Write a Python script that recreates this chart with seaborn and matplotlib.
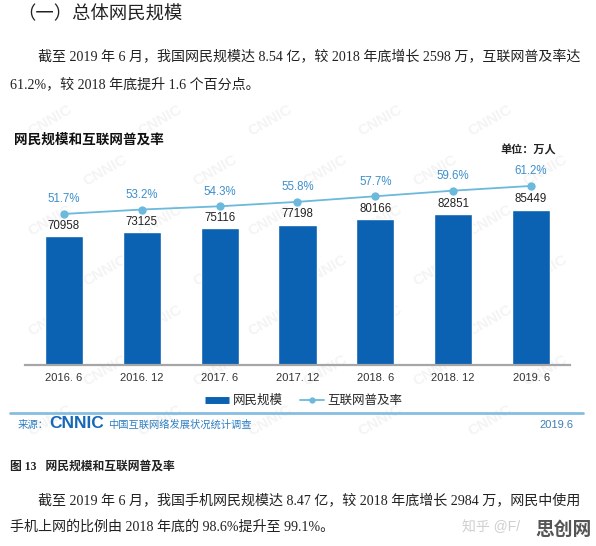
import matplotlib
matplotlib.use('Agg')
import matplotlib.pyplot as plt
from matplotlib.lines import Line2D
import seaborn as sns
import numpy as np
import pandas as pd

# ---- data ----
periods = ['2016. 6', '2016. 12', '2017. 6', '2017. 12', '2018. 6', '2018. 12', '2019. 6']
netizens = [70958, 73125, 75116, 77198, 80166, 82851, 85449]
penetration = [51.7, 53.2, 54.3, 55.8, 57.7, 59.6, 61.2]

heading = '（一）总体网民规模'
para1 = ['截至 2019 年 6 月，我国网民规模达 8.54 亿，较 2018 年底增长 2598 万，互联网普及率达',
         '61.2%，较 2018 年底提升 1.6 个百分点。']
chart_title = '网民规模和互联网普及率'
unit_text = '单位：万人'
legend_labels = ['网民规模', '互联网普及率']
source_label = '来源：'
source_logo = 'CNNIC'
source_name = '中国互联网络发展状况统计调查'
source_date = '2019.6'
caption = '图 13   网民规模和互联网普及率'
para2 = ['截至 2019 年 6 月，我国手机网民规模达 8.47 亿，较 2018 年底增长 2984 万，网民中使用',
         '手机上网的比例由 2018 年底的 98.6%提升至 99.1%。']

df = pd.DataFrame({'period': periods, 'netizens': netizens, 'penetration': penetration})

sns.set_theme(style='white')
SANS = ['Liberation Sans', 'Noto Sans CJK SC', 'DejaVu Sans']
SERIF = ['Liberation Serif', 'Noto Sans CJK SC', 'DejaVu Sans']
plt.rcParams['font.family'] = SANS

W, H = 596, 546
fig = plt.figure(figsize=(W / 100, H / 100), dpi=100)
fig.patch.set_facecolor('white')


def fx(x):
    return x / W


def fy(y):
    return 1 - y / H


bar_color = '#0b62b3'
line_color = '#6bb9dc'
pct_color = '#3d8fcc'

# ---- faint background watermark (decoration), kept inside the page ----
for r, yy in enumerate(range(120, 440, 50)):
    off = (r % 2) * 55
    for xx in range(50 + off, 560, 110):
        fig.text(fx(xx), fy(yy), 'CNNIC', fontsize=11, fontweight='bold',
                 color='#f4f4f4', rotation=30, ha='center', va='center', zorder=-5)

# ---- chart axes ----
ax = fig.add_axes([fx(25), fy(365), fx(570) - fx(25), fy(160) - fy(365)])
ax.set_facecolor('none')
sns.barplot(data=df, x='period', y='netizens', color=bar_color, width=0.49,
            saturation=1, ax=ax)
ax.set_xlim(-0.5, 6.5)
ax.set_ylim(0, 112760)
for i, v in enumerate(df['netizens']):
    ax.annotate(f'{v}', (i, v), xytext=(0, 7.5), textcoords='offset points',
                ha='center', va='center', fontsize=8.3, color='#222222')
ax.set_xlabel('')
ax.set_ylabel('')
ax.set_yticks([])
for s in ['left', 'right', 'top']:
    ax.spines[s].set_visible(False)
ax.spines['bottom'].set_color('#a6a6a6')
ax.spines['bottom'].set_linewidth(1.6)
ax.tick_params(axis='x', length=0, pad=6, labelsize=8, labelcolor='#333333')

ax2 = ax.twinx()
sns.pointplot(data=df, x='period', y='penetration', color=line_color,
              markers='o', linestyles='-', markersize=5, linewidth=1.3, ax=ax2)
ax2.set_xlim(-0.5, 6.5)
ax2.set_ylim(0.46, 70.0)
ax2.set_yticks([])
ax2.set_ylabel('')
ax2.set_xlabel('')
for s in ax2.spines.values():
    s.set_visible(False)
for i, p in enumerate(df['penetration']):
    ax2.annotate(f'{p:.1f}%', (i, p), xytext=(0, 10.5), textcoords='offset points',
                 ha='center', va='center', fontsize=8.3, color=pct_color)

# ---- legend ----
handles = [Line2D([0], [0], color=bar_color, lw=5, solid_capstyle='butt'),
           Line2D([0], [0], color=line_color, lw=1.3, marker='o', markersize=3.5)]
fig.legend(handles, legend_labels, loc='center', bbox_to_anchor=(fx(304), fy(401)),
           ncol=2, frameon=False, fontsize=9, handlelength=1.9, handletextpad=0.3,
           columnspacing=1.4)

# ---- separator & source ----
fig.add_artist(Line2D([fx(10), fx(583)], [fy(413), fy(413)], color='#86bde0', lw=2))
fig.text(fx(18), fy(425), source_label, fontsize=7.5, color='#2f7fc0', va='center')
fig.text(fx(49), fy(424), source_logo, fontsize=12.5, fontweight='bold',
         color='#1868b7', va='center')
fig.text(fx(108), fy(425), source_name, fontsize=7.4, color='#2f7fc0', va='center')
fig.text(fx(573), fy(425), source_date, fontsize=8, color='#3d7fb5', va='center', ha='right')

# ---- chart titles ----
fig.text(fx(14), fy(140), chart_title, fontsize=9.8, fontweight='bold',
         color='#111111', va='center')
fig.text(fx(500), fy(150), unit_text, fontsize=8, fontweight='bold',
         color='#222222', va='center')

# ---- document text ----
fig.text(fx(17), fy(14), heading, fontsize=13.2, color='#222222', va='center', family=SERIF)
fig.text(fx(38), fy(57), para1[0], fontsize=10.1, color='#222222', va='center', family=SERIF)
fig.text(fx(10), fy(84), para1[1], fontsize=10.1, color='#222222', va='center', family=SERIF)
fig.text(fx(10), fy(467), caption, fontsize=8.5, fontweight='bold', color='#222222',
         va='center', family=SERIF)
fig.text(fx(38), fy(500), para2[0], fontsize=10.1, color='#222222', va='center', family=SERIF)
fig.text(fx(10), fy(527), para2[1], fontsize=10.1, color='#222222', va='center', family=SERIF)

# ---- watermark ----
fig.text(fx(462), fy(527), '知乎 @F/', fontsize=10, color='#cfcfcf', va='center')
fig.text(fx(592), fy(530), '思创网', fontsize=13.5, fontweight='bold', color='#555555',
         va='center', ha='right')

fig.savefig('out.png', dpi=100, facecolor='white')
